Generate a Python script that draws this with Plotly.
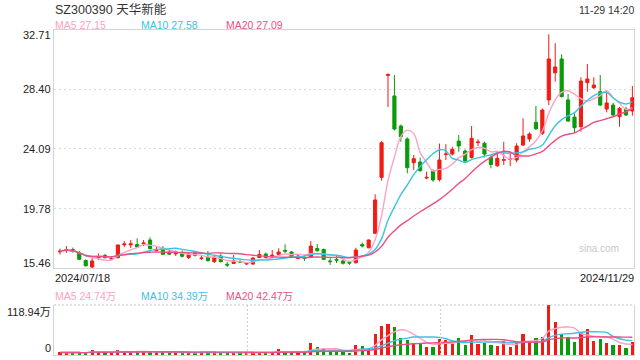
import plotly.graph_objects as go
import pandas as pd

# ---------------- data ----------------
open_ = [16.63, 16.73, 16.80, 16.56, 16.00, 15.53, 16.21, 16.37, 16.11, 16.21,
         17.14, 17.14, 17.16, 17.21, 17.49, 16.73, 16.89, 16.62, 16.49, 16.55,
         16.22, 16.56, 16.15, 16.23, 15.92, 16.33, 15.73, 15.79, 15.94, 15.75,
         15.75, 16.22, 16.47, 16.33, 16.44, 16.73, 16.62, 16.15, 16.23, 16.26,
         16.87, 16.80, 15.97, 16.08, 15.97, 15.86, 15.84, 17.16, 16.93, 17.97,
         22.03, 29.42, 27.93, 25.75, 24.81, 23.09, 23.14, 21.98, 22.49, 21.87,
         23.69, 23.72, 24.66, 23.94, 23.47, 24.55, 24.50, 23.48, 22.87, 23.27,
         23.34, 23.29, 24.37, 24.81, 26.02, 25.22, 27.64, 29.61, 30.61, 27.64,
         26.40, 25.70, 28.89, 28.53, 28.24, 26.98, 27.27, 26.43, 26.98, 26.84]
high = [16.87, 17.05, 16.94, 16.69, 16.08, 16.28, 16.51, 16.47, 16.33, 17.16,
        17.42, 17.49, 17.61, 17.49, 17.68, 16.98, 17.05, 16.76, 16.73, 16.73,
        16.55, 16.65, 16.37, 16.69, 16.40, 16.47, 15.89, 16.40, 16.08, 15.89,
        16.26, 16.76, 16.58, 16.76, 16.89, 17.18, 16.69, 16.44, 16.40, 17.42,
        17.20, 16.87, 16.18, 16.33, 16.08, 15.97, 16.93, 17.31, 17.52, 20.80,
        24.66, 29.57, 29.45, 25.86, 24.93, 23.65, 23.45, 22.44, 22.61, 24.48,
        24.43, 24.25, 25.10, 24.06, 25.75, 24.79, 24.61, 23.65, 23.89, 24.61,
        23.77, 24.50, 26.31, 25.29, 27.20, 27.02, 32.40, 31.75, 30.95, 28.07,
        26.67, 29.28, 30.24, 29.28, 29.45, 28.29, 27.44, 27.13, 27.15, 28.65]
low = [16.44, 16.55, 16.58, 16.04, 15.57, 15.46, 16.04, 16.15, 16.04, 16.15,
       16.98, 16.91, 16.91, 17.05, 16.80, 16.65, 16.40, 16.40, 16.33, 16.22,
       16.11, 16.29, 16.04, 15.93, 15.82, 15.86, 15.53, 15.75, 15.82, 15.68,
       15.68, 16.18, 16.15, 16.22, 16.33, 16.55, 16.22, 16.08, 15.97, 16.22,
       16.65, 16.04, 15.68, 15.82, 15.71, 15.68, 15.79, 16.95, 16.88, 17.92,
       21.79, 27.13, 25.43, 24.61, 22.32, 22.56, 22.45, 21.89, 21.71, 21.73,
       23.29, 23.61, 23.89, 23.09, 23.40, 24.30, 23.48, 22.69, 22.80, 22.92,
       22.85, 23.12, 24.30, 24.61, 25.46, 25.10, 27.27, 28.96, 27.82, 26.04,
       25.22, 25.34, 28.24, 28.43, 27.20, 26.74, 26.48, 25.70, 26.48, 26.50]
close = [16.68, 16.80, 16.65, 16.09, 15.62, 15.97, 16.26, 16.21, 16.15, 17.13,
         17.20, 17.21, 16.98, 17.27, 16.87, 16.81, 16.45, 16.46, 16.55, 16.31,
         16.47, 16.37, 16.18, 15.99, 16.24, 15.92, 15.68, 15.97, 15.89, 15.79,
         16.18, 16.44, 16.23, 16.38, 16.62, 16.68, 16.26, 16.33, 16.18, 17.05,
         16.71, 16.09, 15.92, 16.03, 15.80, 15.82, 16.76, 17.05, 17.49, 20.39,
         24.54, 29.47, 25.53, 24.98, 22.73, 23.38, 22.51, 22.03, 21.84, 23.29,
         23.72, 24.06, 24.30, 23.22, 24.86, 24.59, 23.72, 22.97, 23.41, 23.31,
         23.38, 24.30, 25.03, 25.17, 25.55, 26.91, 30.61, 30.03, 27.88, 26.11,
         25.63, 29.01, 29.16, 28.72, 27.27, 27.42, 26.55, 27.03, 26.55, 27.80]
# volume in 万 (10k shares)
volume = [6.3, 5.6, 5.6, 5.6, 5.6, 11.9, 6.3, 5.6, 5.6, 11.9,
          7.9, 7.9, 7.9, 7.9, 7.9, 7.9, 6.3, 4.8, 6.3, 4.8,
          6.3, 4.8, 6.3, 6.3, 6.3, 6.3, 6.3, 4.8, 6.3, 5.6,
          6.3, 6.3, 6.3, 6.3, 14.3, 6.3, 6.3, 7.9, 6.3, 28.5,
          19.0, 14.3, 6.3, 7.9, 6.3, 4.8, 23.8, 21.4, 15.9, 50.0,
          69.0, 73.7, 66.6, 41.2, 35.7, 29.3, 26.2, 19.0, 19.0, 38.9,
          35.7, 27.0, 40.4, 23.8, 47.6, 26.2, 29.3, 23.8, 21.4, 33.3,
          19.0, 29.3, 50.0, 33.3, 40.4, 42.8, 118.94, 78.5, 50.0, 42.0,
          30.9, 53.9, 61.9, 34.1, 38.1, 28.5, 23.8, 23.8, 16.7, 30.9]

title_text = "SZ300390 天华新能"
time_text = "11-29 14:20"
date_labels = ["2024/07/18", "2024/11/29"]
price_ticks = [32.71, 28.40, 24.09, 19.78, 15.46]
price_tick_labels = ["32.71", "28.40", "24.09", "19.78", "15.46"]
ma_labels = ["MA5 27.15", "MA10 27.58", "MA20 27.09"]
vol_ma_labels = ["MA5 24.74万", "MA10 34.39万", "MA20 42.47万"]
vol_tick_labels = ["118.94万", "0"]

# ---------------- styling ----------------
RED = "#f01c14"
GREEN = "#0a9a0a"
C_MA5 = "#fca2c4"
C_MA10 = "#3cc3e3"
C_MA20 = "#ec4f85"
BORDER = "#d4d4d4"
GRID = "#dcdcdc"
FONT = "Liberation Sans, Arial, Noto Sans CJK SC, sans-serif"

W, H = 640, 360
ML, MR, MT, MB = 54, 6, 30, 5
PW, PH = W - ML - MR, H - MT - MB


def px(xp):
    return (xp - ML) / PW


def py(yp):
    return (H - MB - yp) / PH


x = list(range(len(close)))
cs = pd.Series(close)
vs = pd.Series(volume)
ma_price = [cs.rolling(n, min_periods=1).mean() for n in (5, 10, 20)]
ma_vol = [vs.rolling(n, min_periods=1).mean() for n in (5, 10, 20)]
ma_colors = [C_MA5, C_MA10, C_MA20]
vol_colors = [RED if c >= o else GREEN for o, c in zip(open_, close)]

fig = go.Figure()
fig.add_trace(go.Candlestick(
    x=x, open=open_, high=high, low=low, close=close,
    increasing=dict(line=dict(color=RED, width=1), fillcolor=RED),
    decreasing=dict(line=dict(color=GREEN, width=1), fillcolor=GREEN),
    whiskerwidth=0, hoverinfo="skip", xaxis="x", yaxis="y"))
for ma, col in zip(ma_price, ma_colors):
    fig.add_trace(go.Scatter(x=x, y=ma, mode="lines", hoverinfo="skip",
                             line=dict(color=col, width=1.4, shape="spline"),
                             xaxis="x", yaxis="y"))

fig.add_trace(go.Bar(x=x, y=volume, marker=dict(color=vol_colors, line=dict(width=0)),
                     width=0.5, hoverinfo="skip", xaxis="x2", yaxis="y2"))
for ma, col in zip(ma_vol, ma_colors):
    fig.add_trace(go.Scatter(x=x, y=ma, mode="lines", hoverinfo="skip",
                             line=dict(color=col, width=1.4, shape="spline"),
                             xaxis="x2", yaxis="y2"))

xr = [-0.93, 89.25]
main_bottom = py(268)
vol_top = py(305)

fig.update_layout(
    width=W, height=H,
    margin=dict(l=ML, r=MR, t=MT, b=MB),
    paper_bgcolor="white", plot_bgcolor="white",
    showlegend=False, bargap=0,
    font=dict(family=FONT, size=11, color="#333"),
    xaxis=dict(domain=[0, 1], range=xr, anchor="y", showgrid=False,
               showticklabels=False, zeroline=False, showline=True, mirror=True,
               linecolor=BORDER, linewidth=1, ticks="",
               rangeslider=dict(visible=False), fixedrange=True),
    yaxis=dict(domain=[main_bottom, 1], range=[price_ticks[-1], price_ticks[0]],
               tickvals=price_ticks[1:4], showticklabels=False, ticks="",
               showgrid=True, gridcolor=GRID, gridwidth=1, griddash="2px,3px",
               zeroline=False, showline=True, mirror=True, linecolor=BORDER,
               linewidth=1, fixedrange=True),
    xaxis2=dict(domain=[0, 1], range=xr, anchor="y2", showgrid=False,
                showticklabels=False, zeroline=False, showline=True,
                linecolor=BORDER, linewidth=1, ticks="", fixedrange=True),
    yaxis2=dict(domain=[0, vol_top], range=[0, max(volume)], anchor="x2",
                showgrid=False, showticklabels=False, zeroline=False,
                showline=True, mirror=True, linecolor=BORDER, linewidth=1,
                ticks="", fixedrange=True),
)

shapes = []
# dotted top of volume panel
shapes.append(dict(type="line", xref="x2 domain", yref="y2 domain",
                   x0=0, x1=1, y0=1, y1=1,
                   line=dict(color="#c8c8c8", width=1, dash="2px,2px")))
for fx in (1 / 3, 2 / 3):
    shapes.append(dict(type="line", xref="x2 domain", yref="y2 domain",
                       x0=fx, x1=fx, y0=0, y1=1,
                       line=dict(color="#c8c8c8", width=1, dash="2px,2px")))
fig.update_layout(shapes=shapes)

ann = []


def add_text(text, xp, yp, xanchor="left", size=11, color="#333"):
    ann.append(dict(text=text, x=px(xp), y=py(yp), xref="paper", yref="paper",
                    xanchor=xanchor, yanchor="middle", showarrow=False,
                    font=dict(size=size, color=color, family=FONT), borderpad=0))


add_text(title_text, 54, 9.5, size=12.5, color="#333")
add_text(time_text, 635, 10, xanchor="right", size=10.5, color="#333")
for lab, xp, col in zip(ma_labels, (54, 140, 225), ma_colors):
    add_text(lab, xp, 24.5, size=10.5, color=col)
for lab, yp in zip(price_tick_labels, (35, 89, 149, 209, 263)):
    add_text(lab, 52, yp, xanchor="right", size=11, color="#222")
add_text(date_labels[0], 54, 278, size=11, color="#222")
add_text(date_labels[1], 635, 278, xanchor="right", size=11, color="#222")
for lab, xp, col in zip(vol_ma_labels, (54, 140, 225), ma_colors):
    add_text(lab, xp, 296, size=10.5, color=col)
add_text(vol_tick_labels[0], 52, 312, xanchor="right", size=11, color="#222")
add_text(vol_tick_labels[1], 52, 348, xanchor="right", size=11, color="#222")
add_text("sina.com", 620, 248, xanchor="right", size=10, color="#c8c8c8")
fig.update_layout(annotations=ann)

fig.write_html("out.html", config={"displayModeBar": False})
